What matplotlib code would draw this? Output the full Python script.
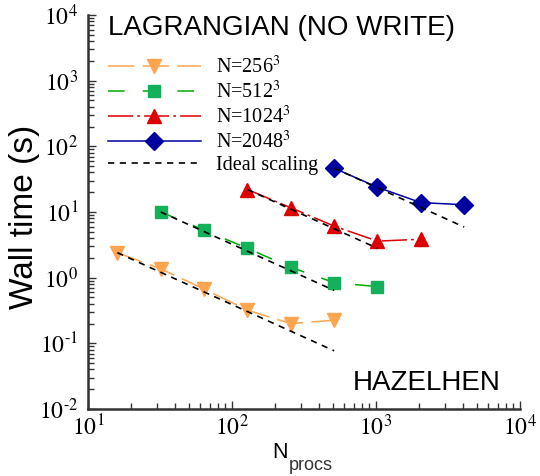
import matplotlib
matplotlib.use("Agg")
import matplotlib.pyplot as plt
from matplotlib.ticker import FixedLocator, FixedFormatter, LogLocator, NullFormatter

plt.rcParams['mathtext.fontset'] = 'stix'
plt.rcParams['lines.scale_dashes'] = False

# ---- data ----
procs_256 = [16, 32, 64, 128, 256, 512]
time_256 = [2.4, 1.36, 0.67, 0.32, 0.2, 0.225]
procs_512 = [32, 64, 128, 256, 512, 1024]
time_512 = [10.0, 5.3, 2.8, 1.44, 0.84, 0.73]
procs_1024 = [128, 256, 512, 1024, 2048]
time_1024 = [22.0, 11.6, 6.1, 3.6, 3.85]
procs_2048 = [512, 1024, 2048, 4096]
time_2048 = [46.5, 23.8, 13.9, 12.9]

ideal_256_x = [16, 512]
ideal_256_y = [2.4, 0.077]
ideal_512_x = [32, 512]
ideal_512_y = [10.0, 0.64]
ideal_1024_x = [128, 1024]
ideal_1024_y = [22.0, 2.8]
ideal_2048_x = [512, 4096]
ideal_2048_y = [46.5, 5.9]

labels = ['N=256$^{3}$', 'N=512$^{3}$', 'N=1024$^{3}$', 'N=2048$^{3}$', 'Ideal scaling']
xticks = [1e1, 1e2, 1e3, 1e4]
xticklabels = [r'$10^{1}$', r'$10^{2}$', r'$10^{3}$', r'$10^{4}$']
yticks = [1e-2, 1e-1, 1e0, 1e1, 1e2, 1e3, 1e4]
yticklabels = [r'$10^{\text{-}2}$', r'$10^{\text{-}1}$', r'$10^{0}$', r'$10^{1}$',
               r'$10^{2}$', r'$10^{3}$', r'$10^{4}$']

fig = plt.figure(figsize=(5.4, 4.76), dpi=100)
ax = fig.add_axes([88/540, 1-409/476, 432/540, 394/476])

c_or = '#FFA54F'
c_gr_l = '#00AA00'
c_gr_m = '#14B05A'
c_rd = '#DD0000'
c_bl = '#0000A0'

l1, = ax.plot(procs_256, time_256, color=c_or, lw=1.1, dashes=(19, 6),
              marker='v', ms=10, mfc=c_or, mec=c_or, zorder=2)
l2, = ax.plot(procs_512, time_512, color=c_gr_l, lw=1.1, dashes=(12, 13),
              marker='s', ms=8, mfc=c_gr_m, mec=c_gr_m, zorder=2)
l3, = ax.plot(procs_1024, time_1024, color=c_rd, lw=1.1, dashes=(18, 3, 2, 3),
              marker='^', ms=10, mfc=c_rd, mec=c_rd, zorder=2)
l4, = ax.plot(procs_2048, time_2048, color=c_bl, lw=1.1, linestyle='-',
              marker='D', ms=9.5, mfc=c_bl, mec=c_bl, zorder=2)
ideal_kw = dict(color='black', lw=1.2, dashes=(4.5, 4), zorder=3)
l5, = ax.plot(ideal_256_x, ideal_256_y, **ideal_kw)
ax.plot(ideal_512_x, ideal_512_y, **ideal_kw)
ax.plot(ideal_1024_x, ideal_1024_y, **ideal_kw)
ax.plot(ideal_2048_x, ideal_2048_y, **ideal_kw)

ax.set_xscale('log')
ax.set_yscale('log')
ax.set_xlim(1e1, 1e4)
ax.set_ylim(1e-2, 1e4)

ax.xaxis.set_major_locator(FixedLocator(xticks))
ax.xaxis.set_major_formatter(FixedFormatter(xticklabels))
ax.yaxis.set_major_locator(FixedLocator(yticks))
ax.yaxis.set_major_formatter(FixedFormatter(yticklabels))
ax.xaxis.set_minor_locator(LogLocator(base=10, subs=range(2, 10), numticks=20))
ax.yaxis.set_minor_locator(LogLocator(base=10, subs=range(2, 10), numticks=20))
ax.xaxis.set_minor_formatter(NullFormatter())
ax.yaxis.set_minor_formatter(NullFormatter())

for s in ['top', 'right']:
    ax.spines[s].set_visible(False)
for s in ['left', 'bottom']:
    ax.spines[s].set_linewidth(1.8)
    ax.spines[s].set_color('#333333')
ax.tick_params(which='both', direction='in', top=False, right=False, color='#333333', width=1)
ax.tick_params(which='major', length=6, labelsize=17)
ax.tick_params(which='minor', length=4)
ax.tick_params(axis='y', which='major', pad=7)
ax.tick_params(axis='x', which='major', pad=4)

leg = ax.legend([l1, l2, l3, l4, l5], labels, loc='upper left',
                bbox_to_anchor=(0.046, 0.897), borderaxespad=0, borderpad=0,
                frameon=False, numpoints=1, handlelength=4.6, handletextpad=0.75,
                labelspacing=0.15, prop={'family': 'Liberation Serif', 'size': 14.5})

ax.text(0.046, 0.967, 'LAGRANGIAN (NO WRITE)', transform=ax.transAxes,
        ha='left', va='center', fontsize=20, family='Liberation Sans')
ax.text(0.954, 0.066, 'HAZELHEN', transform=ax.transAxes,
        ha='right', va='center', fontsize=20, family='Liberation Sans')

fig.text(25/540, 1-217/476, 'Wall time (s)', rotation=90, ha='center', va='center',
         fontsize=24, family='Liberation Sans')
fig.text(280/540, 1-452/476, 'N', ha='center', va='center', fontsize=15.5,
         family='Liberation Sans')
fig.text(289/540, 1-465/476, 'procs', ha='left', va='center', fontsize=13,
         family='Liberation Sans', color='#333333')

fig.savefig('out.png', dpi=100)
